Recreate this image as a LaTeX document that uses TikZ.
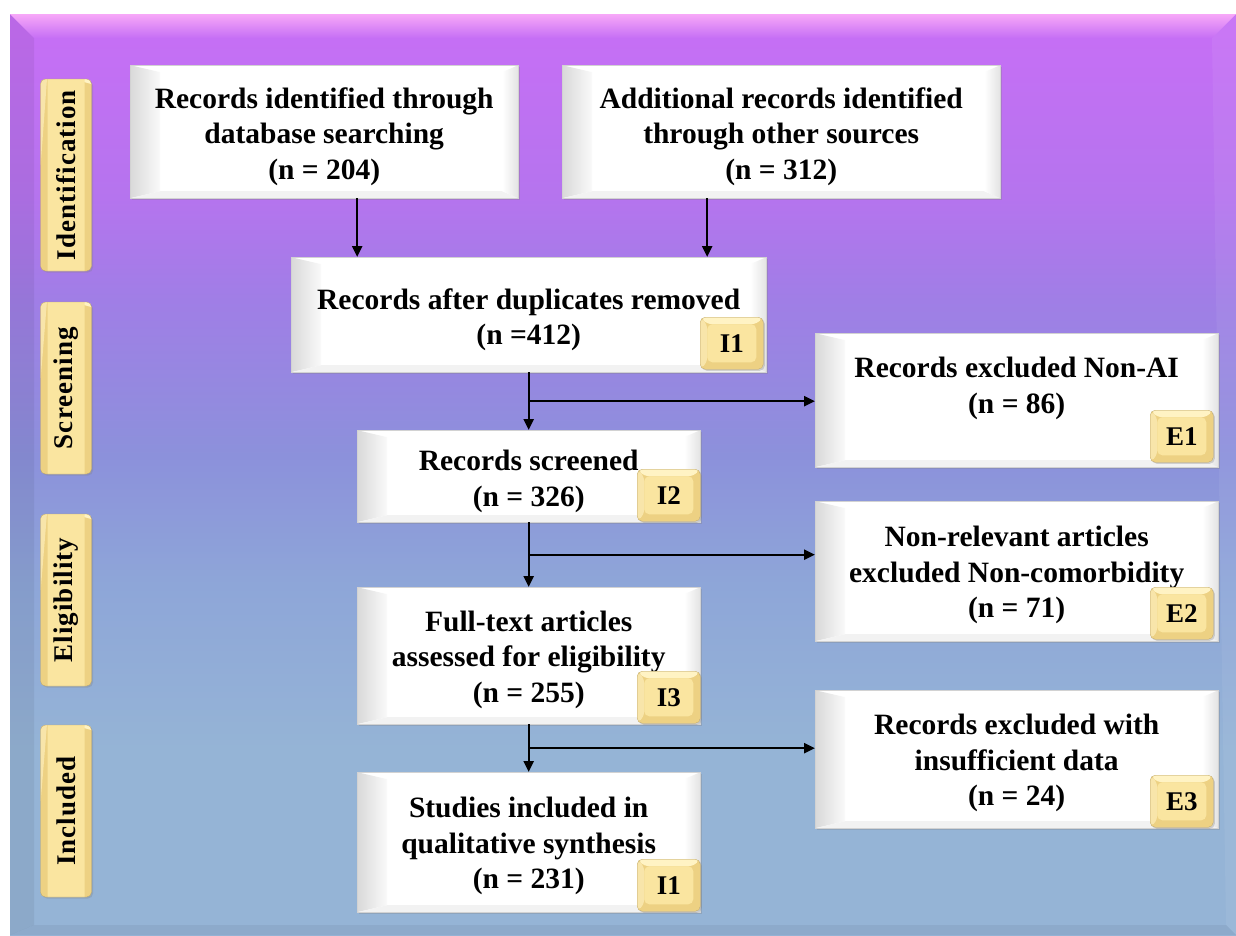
\documentclass[tikz,border=0pt]{standalone}
\usepackage{fontspec}
\setmainfont{Liberation Serif}
\newfontfamily\prismaside[LetterSpace=4]{Liberation Serif}
\usetikzlibrary{shadows,arrows.meta,calc}
\definecolor{bgA}{HTML}{C66FF5}
\definecolor{bgB}{HTML}{B574EE}
\definecolor{bgC}{HTML}{A07EE6}
\definecolor{bgD}{HTML}{8C91DB}
\definecolor{bgE}{HTML}{8EA6D8}
\definecolor{bgF}{HTML}{95B4D6}
\definecolor{bgPink}{HTML}{F7A8F8}
\definecolor{tagEdge}{HTML}{EDD183}
\definecolor{tagMid}{HTML}{FAE5A0}
\definecolor{tagLight}{HTML}{FFF3C4}
\pgfdeclareverticalshading{bgshade}{100bp}{color(0bp)=(bgF); color(35bp)=(bgF); color(44bp)=(bgE); color(51bp)=(bgD); color(59.5bp)=(bgC); color(65bp)=(bgB); color(74bp)=(bgA); color(100bp)=(bgA)}
\newcommand{\prismaboxfont}{\bfseries\fontsize{29.5}{35.5}\selectfont}
\newcommand{\prismatagfont}{\bfseries\fontsize{27}{27}\selectfont}
\newcommand{\prismaphasefont}{\prismaside\bfseries\fontsize{27}{27}\selectfont}
\tikzset{
  bevelbox/.style={rectangle, fill=white, draw=gray!35, line width=0.4pt, inner sep=0pt, anchor=north west,
    drop shadow={shadow xshift=2pt, shadow yshift=-2pt, opacity=0.3},
    path picture={
      \coordinate (pNW) at (path picture bounding box.north west);
      \coordinate (pNE) at (path picture bounding box.north east);
      \coordinate (pSW) at (path picture bounding box.south west);
      \coordinate (pSE) at (path picture bounding box.south east);
      \shade[left color=gray!30, right color=gray!4] (pSW) -- (pNW) -- ([xshift=30pt,yshift=-7pt]pNW) -- ([xshift=30pt,yshift=7pt]pSW) -- cycle;
      \fill[gray!10] (pSW) -- ([xshift=30pt,yshift=7pt]pSW) -- ([xshift=-16pt,yshift=7pt]pSE) -- (pSE) -- cycle;
      \shade[left color=white, right color=gray!22] (pSE) -- ([xshift=-16pt,yshift=7pt]pSE) -- ([xshift=-16pt,yshift=-7pt]pNE) -- (pNE) -- cycle;
    }},
  boxtext/.style={align=center, font=\prismaboxfont, inner sep=0pt},
  goldbevel/.style={rectangle, rounded corners=5pt, fill=tagEdge, draw=tagEdge!80!black, line width=0.3pt, inner sep=0pt,
    drop shadow={shadow xshift=1.5pt, shadow yshift=-1.5pt, opacity=0.3},
    path picture={
      \coordinate (gNW) at (path picture bounding box.north west);
      \coordinate (gNE) at (path picture bounding box.north east);
      \coordinate (gSW) at (path picture bounding box.south west);
      \coordinate (gSE) at (path picture bounding box.south east);
      \fill[tagLight] (gNW) -- (gNE) -- ([xshift=-7pt,yshift=-7pt]gNE) -- ([xshift=7pt,yshift=-7pt]gNW) -- cycle;
      \fill[tagLight!60!tagEdge] (gNW) -- ([xshift=7pt,yshift=-7pt]gNW) -- ([xshift=7pt,yshift=7pt]gSW) -- (gSW) -- cycle;
      \fill[tagMid] ([xshift=7pt,yshift=-7pt]gNW) rectangle ([xshift=-7pt,yshift=7pt]gSE);
    }},
  tagbox/.style={goldbevel, minimum width=63pt, minimum height=52pt, font=\prismatagfont, anchor=south east},
  phasebox/.style={goldbevel, minimum height=51pt, font=\prismaphasefont, rotate=90},
  arr/.style={line width=2.4pt, -{Triangle[length=11pt,width=10pt]}}
}
\begin{document}
\begin{tikzpicture}[x=1pt,y=-1pt]
\useasboundingbox (0,0) rectangle (1236,935);
% background panel
\fill[white] (0,0) rectangle (1236,935);
\fill[shading=bgshade] (10,14) rectangle (1236,935);
\shade[top color=bgPink, bottom color=bgA] (10,14) -- (1236,14) -- (1212,38) -- (34,38) -- cycle;
\fill[black, opacity=0.06] (10,14) -- (34,38) -- (34,925) -- (10,935) -- cycle;
\fill[white, opacity=0.06] (1236,14) -- (1212,38) -- (1226,925) -- (1236,935) -- cycle;
\fill[black, opacity=0.05] (10,935) -- (34,925) -- (1226,925) -- (1236,935) -- cycle;

% phase labels
\node[phasebox, minimum width=192pt] (pI) at (66,175) {Identification};
\node[phasebox, minimum width=172pt] (pS) at (66,388) {Screening};
\node[phasebox, minimum width=172pt] (pE) at (66,600) {Eligibility};
\node[phasebox, minimum width=172pt] (pN) at (66,811) {Included};

% boxes
\node[bevelbox, minimum width=388pt, minimum height=133pt] (A) at (130,65) {};
\node[bevelbox, minimum width=438pt, minimum height=133pt] (B) at (562,65) {};
\node[bevelbox, minimum width=475pt, minimum height=115pt] (C) at (291,257) {};
\node[bevelbox, minimum width=403pt, minimum height=134pt] (E1) at (815,333) {};
\node[bevelbox, minimum width=343pt, minimum height=92pt] (S) at (357,430) {};
\node[bevelbox, minimum width=403pt, minimum height=140pt] (E2) at (815,501) {};
\node[bevelbox, minimum width=343pt, minimum height=137pt] (F) at (357,587) {};
\node[bevelbox, minimum width=403pt, minimum height=138pt] (E3) at (815,690) {};
\node[bevelbox, minimum width=343pt, minimum height=140pt] (St) at (357,772) {};

% box texts
\node[boxtext] (At) at ([yshift=-5pt]A.center) {Records identified through\\database searching\\(n = 204)};
\node[boxtext] (Bt) at ([yshift=-5pt]B.center) {Additional records identified\\through other sources\\(n = 312)};
\node[boxtext] (Ct) at ([yshift=-5pt]C.center) {Records after duplicates removed\\(n =412)};
\node[boxtext] (E1t) at ([yshift=12pt]E1.center) {Records excluded Non-AI\\(n = 86)};
\node[boxtext] (St1) at ([yshift=-5pt]S.center) {Records screened\\(n = 326)};
\node[boxtext] (E2t) at ([yshift=-4pt]E2.center) {Non-relevant articles\\excluded Non-comorbidity\\(n = 71)};
\node[boxtext] (Ft) at ([yshift=-4pt]F.center) {Full-text articles\\assessed for eligibility\\(n = 255)};
\node[boxtext] (E3t) at ([yshift=-4pt]E3.center) {Records excluded with\\insufficient data\\(n = 24)};
\node[boxtext] (Stt) at ([yshift=-4pt]St.center) {Studies included in\\qualitative synthesis\\(n = 231)};

% tags
\node[tagbox] (tC) at ([xshift=-3pt,yshift=3pt]C.south east) {I1};
\node[tagbox] (tS) at ([xshift=0pt,yshift=1pt]S.south east) {I2};
\node[tagbox] (tF) at ([xshift=0pt,yshift=1pt]F.south east) {I3};
\node[tagbox] (tSt) at ([xshift=0pt,yshift=1pt]St.south east) {I1};
\node[tagbox] (tE1) at ([xshift=-5pt,yshift=5pt]E1.south east) {E1};
\node[tagbox] (tE2) at ([xshift=-5pt,yshift=2pt]E2.south east) {E2};
\node[tagbox] (tE3) at ([xshift=-5pt,yshift=1pt]E3.south east) {E3};

% connectors
\coordinate (a1) at ([xshift=33pt]A.south);
\coordinate (b1) at ([xshift=-74pt]B.south);
\draw[arr] (a1) -- (a1 |- C.north);
\draw[arr] (b1) -- (b1 |- C.north);

\coordinate (j1) at ($(C.south)!0.5!(S.north)$);
\coordinate (j2) at ($(S.south)!0.5!(F.north)$);
\coordinate (j3) at ($(F.south)!0.5!(St.north)$);
\draw[arr] (C.south) -- (S.north);
\draw[arr] (S.south) -- (F.north);
\draw[arr] (F.south) -- (St.north);
\draw[arr] (j1) -- (j1 -| E1.west);
\draw[arr] (j2) -- (j2 -| E2.west);
\draw[arr] (j3) -- (j3 -| E3.west);
\end{tikzpicture}
\end{document}
